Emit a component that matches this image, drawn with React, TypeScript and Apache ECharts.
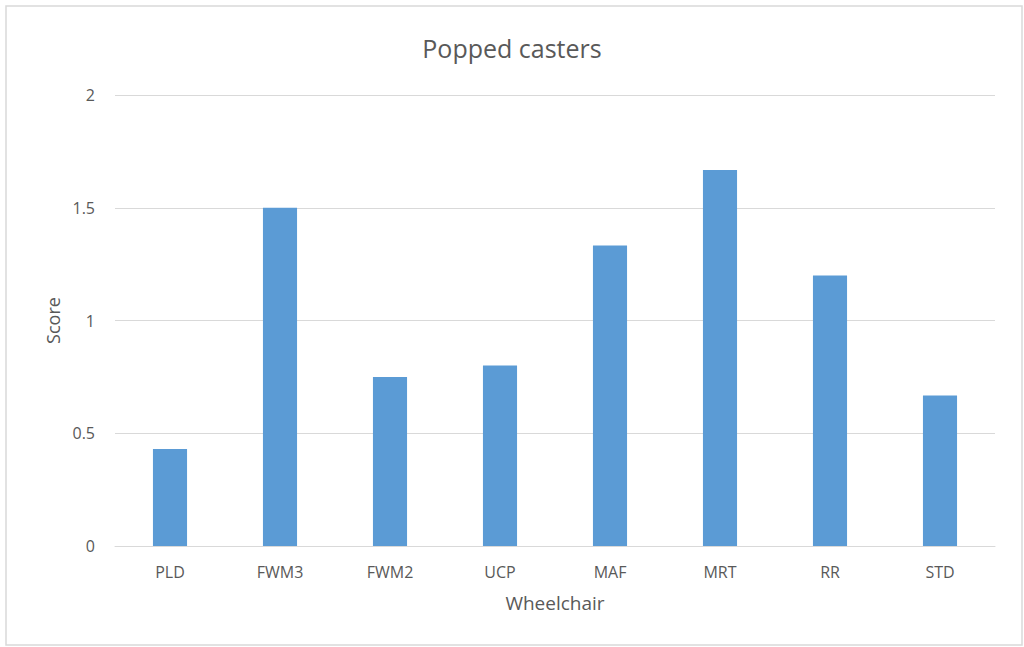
import React, { useEffect, useRef } from "react";
import * as echarts from "echarts";

const categories = ["PLD", "FWM3", "FWM2", "UCP", "MAF", "MRT", "RR", "STD"];
const scores = [0.43, 1.5, 0.75, 0.8, 1.333, 1.667, 1.2, 0.667];
const yTicks = { min: 0, max: 2, interval: 0.5 };

const FONT = "'Open Sans', 'Liberation Sans', sans-serif";

export default function App() {
  const ref = useRef<HTMLDivElement>(null);
  useEffect(() => {
    if (!ref.current) return;
    const chart = echarts.init(ref.current, null, { renderer: "svg" });
    chart.setOption({
      animation: false,
      backgroundColor: "#ffffff",
      textStyle: { fontFamily: FONT },
      title: {
        text: "Popped casters",
        left: "center",
        top: 30,
        textStyle: { fontFamily: FONT, fontSize: 25, fontWeight: "normal", color: "#595959" },
      },
      graphic: [
        {
          type: "rect",
          shape: { x: 6, y: 6, width: 1016, height: 639 },
          style: { fill: "none", stroke: "#D9D9D9", lineWidth: 1.5 },
          silent: true,
        },
      ],
      grid: { left: 115, right: 29, top: 95, bottom: 101 },
      xAxis: {
        type: "category",
        data: categories,
        name: "Wheelchair",
        nameLocation: "middle",
        nameGap: 47,
        nameTextStyle: { fontFamily: FONT, fontSize: 19, color: "#595959" },
        axisLine: { lineStyle: { color: "#D9D9D9", width: 1 } },
        axisTick: { show: false },
        axisLabel: { fontFamily: FONT, fontSize: 16, color: "#595959", margin: 18 },
      },
      yAxis: {
        type: "value",
        min: yTicks.min,
        max: yTicks.max,
        interval: yTicks.interval,
        name: "Score",
        nameLocation: "middle",
        nameGap: 53,
        nameTextStyle: { fontFamily: FONT, fontSize: 18, color: "#595959" },
        axisLine: { show: false },
        axisTick: { show: false },
        axisLabel: { fontFamily: FONT, fontSize: 16, color: "#595959", margin: 20 },
        splitLine: { lineStyle: { color: "#D9D9D9", width: 1 } },
      },
      series: [
        {
          type: "bar",
          data: scores,
          barWidth: "31%",
          itemStyle: { color: "#5B9BD5" },
        },
      ],
    });
    return () => chart.dispose();
  }, []);
  return (
    <div
      ref={ref}
      style={{ position: "absolute", left: 0, top: 0, width: 1024, height: 647 }}
    />
  );
}
